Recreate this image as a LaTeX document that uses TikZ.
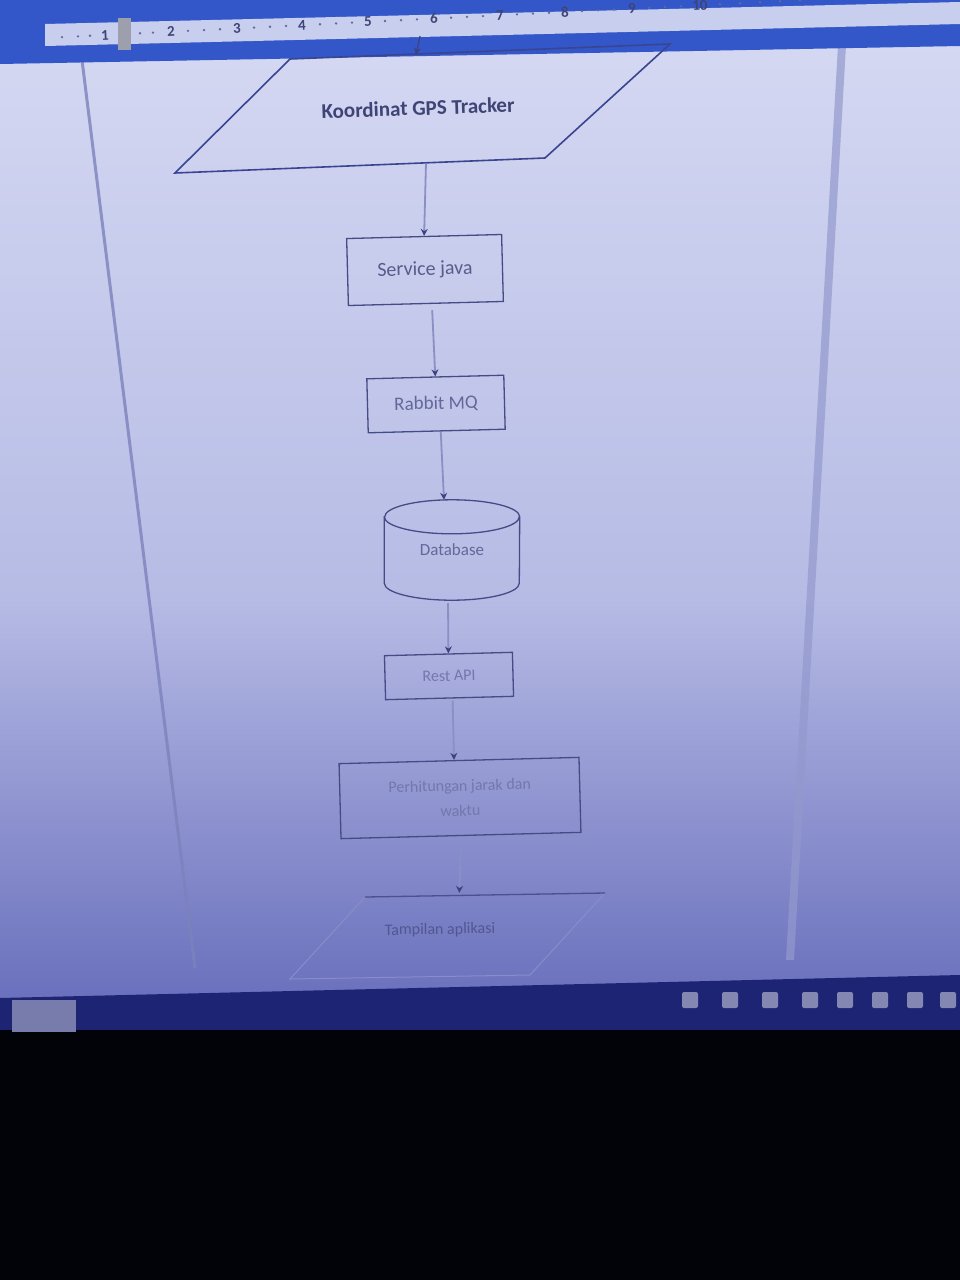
\documentclass[tikz,border=0pt]{standalone}
\usepackage{fontspec}
\setmainfont{Carlito}
\usetikzlibrary{shapes.geometric,arrows.meta}
\definecolor{bgtop}{HTML}{D4D8F2}
\definecolor{bgmid}{HTML}{B6BBE5}
\definecolor{bgbot}{HTML}{6A70BC}
\definecolor{rulerblue}{HTML}{3357C9}
\definecolor{rulerstrip}{HTML}{C8CFEE}
\definecolor{boxline}{HTML}{454B86}
\definecolor{paraline}{HTML}{3A4592}
\definecolor{connline}{HTML}{8A8FC4}
\definecolor{tipc}{HTML}{3C4280}
\definecolor{txtdark}{HTML}{3F4476}
\definecolor{txtmid}{HTML}{63679A}
\definecolor{txtlight}{HTML}{7377AB}
\definecolor{taskbar}{HTML}{1D2474}
\definecolor{pageline}{HTML}{7C82BC}
\begin{document}
\begin{tikzpicture}[x=1pt,y=-1pt,
  boxnode/.style={draw=boxline, line width=1.3pt, rectangle, inner sep=0pt, align=center, rotate=1.5},
  conn/.style={draw=connline, line width=1.8pt, -{Stealth[length=7pt,width=7pt,color=tipc]}},
  rulernum/.style={text=txtdark, font=\bfseries\fontsize{15}{15}\selectfont, rotate=2.8, inner sep=0pt}]
\useasboundingbox (0,0) rectangle (960,1280);
% screen background
\shade[top color=bgtop, bottom color=bgmid] (0,40) rectangle (960,600);
\shade[top color=bgmid, bottom color=bgbot] (0,599) rectangle (960,1000);
% page border lines
\draw[pageline, line width=3pt, opacity=0.8] (82,60) -- (195,968);
\draw[pageline!60!bgmid, line width=8pt, opacity=0.7] (842,45) -- (790,960);
% ruler band
\fill[rulerblue] (0,0) -- (960,0) -- (960,46) -- (0,64) -- cycle;
\fill[rulerstrip] (45,24) -- (960,2) -- (960,24) -- (45,46) -- cycle;
\fill[gray!60!rulerstrip] (118,18) rectangle (131,50);
\foreach \n/\xx in {1/105,2/171,3/237,4/302,5/368,6/434,7/500,8/565,9/632,10/700}{
  \node[rulernum] (r\n) at (\xx,{35-(\xx-105)*0.05}) {\n};
}
\foreach \xx in {62,78,90,140,153,188,204,220,254,270,286,320,336,352,385,401,417,451,467,483,517,533,549,582,598,614,649,665,681,720,740,760,780,800,830,860,890}{
  \fill[txtmid] (\xx,{35-(\xx-105)*0.05}) circle (1.3pt);
}
% flowchart
\coordinate (topin) at (420,36);
\node[inner sep=0pt, minimum width=300, minimum height=112, rotate=2,
      text=txtdark, font=\bfseries\fontsize{21}{24}\selectfont] (gps) at (418,108) {Koordinat GPS Tracker};
\draw[paraline, line width=1.6pt] (290,59) -- (670,44) -- (545,158) -- (175,173) -- cycle;
\node[boxnode, minimum width=155, minimum height=67, text=txtdark!80!bgmid,
      font=\fontsize{20}{24}\selectfont] (svc) at (425,270) {Service java};
\node[boxnode, minimum width=137, minimum height=54, text=txtmid,
      font=\fontsize{19}{24}\selectfont] (mq) at (436,404) {Rabbit MQ};
\node[inner sep=0pt, minimum width=135, minimum height=100, text=txtmid,
      font=\fontsize{17}{20}\selectfont] (db) at (452,550) {Database};
\draw[boxline, line width=1.3pt]
  ([yshift=-17pt]db.north west) -- ([yshift=17pt]db.south west)
  arc (180:360:67.5pt and 17pt) -- ([yshift=-17pt]db.north east)
  arc (0:180:67.5pt and 17pt) -- cycle;
\draw[boxline, line width=1.3pt] ([yshift=-17pt]db.north west) arc (180:360:67.5pt and 17pt);
\node[boxnode, minimum width=128, minimum height=44, text=txtlight,
      font=\fontsize{16}{20}\selectfont] (api) at (449,676) {Rest API};
\node[boxnode, minimum width=240, minimum height=75, text=txtlight,
      font=\fontsize{16}{25}\selectfont] (hit) at (460,798) {Perhitungan jarak dan\\waktu};
\node[inner sep=0pt, minimum width=200, minimum height=74, rotate=1,
      text=txtmid!75!taskbar, font=\fontsize{16}{20}\selectfont] (app) at (440,930) {Tampilan aplikasi};
\draw[bgbot!80!white, line width=1pt] (605,893) -- (530,975) -- (290,979) -- (365,897);
\draw[boxline!85!bgbot, line width=1.3pt] (365,897) -- (605,893);
% connectors
\draw[conn, draw=tipc, line width=1.2pt] (topin) -- ([yshift=-3pt]gps.north);
\draw[conn] ([xshift=6pt]gps.south) -- (svc.north);
\draw[conn, shorten <=6pt] ([xshift=6pt]svc.south) -- (mq.north);
\draw[conn] ([xshift=4pt]mq.south) -- ([xshift=-8pt]db.north);
\draw[conn, shorten <=3pt] ([xshift=-4pt]db.south) -- (api.north);
\draw[conn, shorten <=2pt] ([xshift=3pt]api.south) -- ([xshift=-5pt]hit.north);
\draw[conn, shorten <=12pt] (hit.south) -- ([xshift=20pt]app.north);
% screen bottom / taskbar
\fill[taskbar] (0,998) -- (960,975) -- (960,1040) -- (0,1040) -- cycle;
\fill[black!92!taskbar] (0,1030) rectangle (960,1280);
\fill[taskbar!60!white] (12,1000) rectangle (76,1032);
\foreach \xx in {690,730,770,810,845,880,915,948}{
  \fill[taskbar!55!white, rounded corners=2pt] (\xx-8,992) rectangle (\xx+8,1008);
}
\end{tikzpicture}
\end{document}
